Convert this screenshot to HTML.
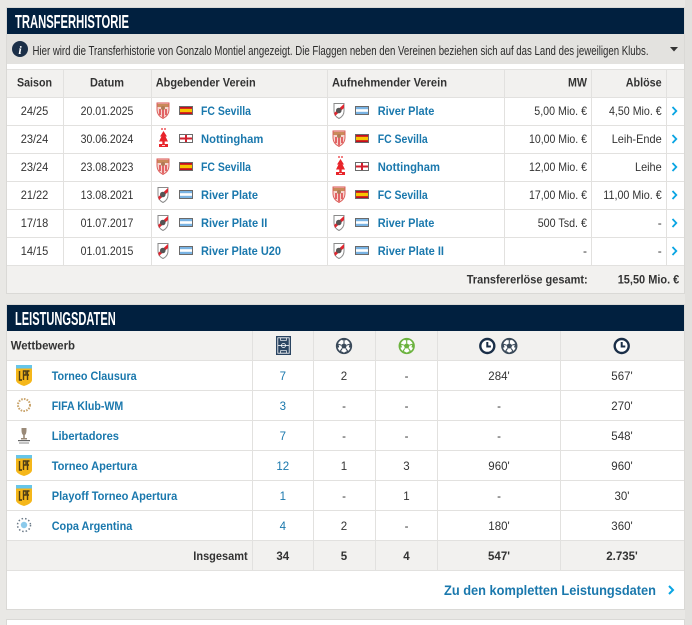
<!DOCTYPE html>
<html><head><meta charset="utf-8"><style>html,body{margin:0;padding:0;background:#e9e8e5;overflow:hidden}svg{display:block}</style></head>
<body>
<svg width="692" height="625" viewBox="0 0 692 625" xmlns="http://www.w3.org/2000/svg" font-family="'Liberation Sans', sans-serif">
<defs>
  <g id="sev">
    <path d="M1,1 H13 V8 Q13,13.5 7,16.5 Q1,13.5 1,8 Z" fill="#f6d6d0" stroke="#d9534f" stroke-width="0.9"/>
    <path d="M1.5,2 H12.5 V5 H1.5Z" fill="#c98a5a"/>
    <path d="M4,7 V13 M7,6 V15.5 M10,7 V13" stroke="#d9343a" stroke-width="1.4"/>
    <circle cx="7" cy="6" r="2" fill="#b07a55"/>
  </g>
  <g id="not">
    <circle cx="4" cy="1" r="0.9" fill="#e8242a"/><circle cx="7" cy="1" r="0.9" fill="#e8242a"/>
    <path d="M5.5,3 L9,8.5 L7.5,8.5 L10,13.5 L6.7,13.5 V16 H10 V19 H1 V16 H4.3 V13.5 L1,13.5 L3.5,8.5 L2,8.5 Z" fill="#e8242a"/>
    <path d="M4,17.5 H7" stroke="#fff" stroke-width="0.8"/>
  </g>
  <g id="riv">
    <path d="M1,1.5 H11 V9 Q11,14 6,16.5 Q1,14 1,9 Z" fill="#fff" stroke="#8a8a8a" stroke-width="1"/>
    <path d="M11,2 V6 L2,14 L1.2,11 Z" fill="#e0252f"/>
    <circle cx="5.8" cy="8.5" r="2.8" fill="#555"/>
  </g>
  <g id="es">
    <rect x="0.5" y="0.5" width="13" height="8" fill="#c60b1e" stroke="#6a6a6a" stroke-width="1"/>
    <rect x="1" y="2.8" width="12" height="3.4" fill="#f7c400"/>
  </g>
  <g id="en">
    <rect x="0.5" y="0.5" width="13" height="8" fill="#fff" stroke="#6a6a6a" stroke-width="1"/>
    <rect x="6" y="1" width="2" height="7" fill="#d0202e"/>
    <rect x="1" y="3.5" width="12" height="2" fill="#d0202e"/>
  </g>
  <g id="ar">
    <rect x="0.5" y="0.5" width="13" height="8" fill="#79b3e3" stroke="#6a6a6a" stroke-width="1"/>
    <rect x="1" y="3.2" width="12" height="2.6" fill="#fff"/>
  </g>
  <g id="chev">
    <polyline points="0,0 3.8,4 0,8" fill="none" stroke="#0aa5e3" stroke-width="1.8"/>
  </g>
  <g id="ball">
    <circle cx="0" cy="0" r="7.3" fill="#fff" stroke="currentColor" stroke-width="1.7"/>
    <polygon points="0,-3 2.9,-0.9 1.8,2.4 -1.8,2.4 -2.9,-0.9" fill="currentColor"/>
    <path d="M0,-3 V-6 M2.9,-0.9 L5.8,-1.9 M1.8,2.4 L3.6,5 M-1.8,2.4 L-3.6,5 M-2.9,-0.9 L-5.8,-1.9" stroke="currentColor" stroke-width="1.1"/>
    <path d="M-2,-6.6 L2,-6.6 M6.6,-2.3 L5.5,1.5 M4.3,5.3 L1.2,6.8 M-4.3,5.3 L-1.2,6.8 M-6.6,-2.3 L-5.5,1.5" stroke="currentColor" stroke-width="1.6"/>
  </g>
  <g id="clock">
    <circle cx="0" cy="0" r="7" fill="#fff" stroke="#1b2f48" stroke-width="2.4"/>
    <polyline points="0,-4 0,0.5 3.6,0.5" fill="none" stroke="#1b2f48" stroke-width="2"/>
  </g>
  <g id="lpf">
    <rect x="0" y="0" width="16" height="3.5" fill="#66c6ea"/>
    <path d="M0,3.5 H16 V15 Q16,18.5 8,21 Q0,18.5 0,15 Z" fill="#f5b71a"/>
    <path d="M3.5,6 V15 H6 M7.5,15 V6 H10 V10 H7.5 M11.5,15 V6 H13.5 M11.5,10 H13" stroke="#4d3d16" stroke-width="1.4" fill="none"/>
  </g>
</defs>

<rect width="692" height="625" fill="#e9e8e5"/>
<rect x="685" y="0" width="7" height="625" fill="#e2e1de"/>

<!-- ===== Box 1: Transferhistorie ===== -->
<rect x="6.5" y="7.5" width="678" height="286" fill="#fff" stroke="#dad9d6"/>
<rect x="7" y="8" width="677" height="26" fill="#01203f"/>
<text x="15" y="28" font-size="18.5" font-weight="bold" fill="#fff" textLength="114" lengthAdjust="spacingAndGlyphs">TRANSFERHISTORIE</text>

<rect x="7" y="34" width="677" height="30" fill="#e3e2df"/>
<circle cx="20" cy="49" r="8" fill="#1b2f48"/>
<text x="20" y="54" font-size="12" font-weight="bold" font-style="italic" font-family="'Liberation Serif', serif" fill="#fff" text-anchor="middle">i</text>
<text x="32.5" y="55" font-size="13" fill="#2a2a2a" textLength="616" lengthAdjust="spacingAndGlyphs">Hier wird die Transferhistorie von Gonzalo Montiel angezeigt. Die Flaggen neben den Vereinen beziehen sich auf das Land des jeweiligen Klubs.</text>
<polygon points="670,47 678,47 674,51.5" fill="#333"/>

<rect x="7" y="69" width="677" height="28" fill="#f2f1ef"/>
<rect x="7" y="265" width="677" height="28" fill="#f2f1ef"/>
<g stroke="#e2e1df" stroke-width="1">
  <line x1="7" y1="69.5" x2="684" y2="69.5"/>
  <line x1="7" y1="97.5" x2="684" y2="97.5"/>
  <line x1="7" y1="125.5" x2="684" y2="125.5"/>
  <line x1="7" y1="153.5" x2="684" y2="153.5"/>
  <line x1="7" y1="181.5" x2="684" y2="181.5"/>
  <line x1="7" y1="209.5" x2="684" y2="209.5"/>
  <line x1="7" y1="237.5" x2="684" y2="237.5"/>
  <line x1="7" y1="265.5" x2="684" y2="265.5"/>
  <line x1="63.5" y1="69" x2="63.5" y2="265"/>
  <line x1="151.5" y1="69" x2="151.5" y2="265"/>
  <line x1="327.5" y1="69" x2="327.5" y2="265"/>
  <line x1="504.5" y1="69" x2="504.5" y2="265"/>
  <line x1="591.5" y1="69" x2="591.5" y2="265"/>
  <line x1="666.5" y1="69" x2="666.5" y2="265"/>
</g>

<g font-size="12" font-weight="bold" fill="#333">
  <text x="34.5" y="86.5" text-anchor="middle" textLength="35" lengthAdjust="spacingAndGlyphs">Saison</text>
  <text x="107" y="86.5" text-anchor="middle" textLength="34" lengthAdjust="spacingAndGlyphs">Datum</text>
  <text x="155.7" y="86.5" textLength="100" lengthAdjust="spacingAndGlyphs">Abgebender Verein</text>
  <text x="332" y="86.5" textLength="115" lengthAdjust="spacingAndGlyphs">Aufnehmender Verein</text>
  <text x="587" y="86.5" text-anchor="end" textLength="19" lengthAdjust="spacingAndGlyphs">MW</text>
  <text x="661.7" y="86.5" text-anchor="end" textLength="36" lengthAdjust="spacingAndGlyphs">Ablöse</text>
</g>

<!-- rows -->
<g font-size="12" fill="#333">
  <text x="34.5" y="115" text-anchor="middle" textLength="27.6" lengthAdjust="spacingAndGlyphs">24/25</text>
  <text x="34.5" y="143" text-anchor="middle" textLength="27.6" lengthAdjust="spacingAndGlyphs">23/24</text>
  <text x="34.5" y="171" text-anchor="middle" textLength="27.6" lengthAdjust="spacingAndGlyphs">23/24</text>
  <text x="34.5" y="199" text-anchor="middle" textLength="27.6" lengthAdjust="spacingAndGlyphs">21/22</text>
  <text x="34.5" y="227" text-anchor="middle" textLength="27.6" lengthAdjust="spacingAndGlyphs">17/18</text>
  <text x="34.5" y="255" text-anchor="middle" textLength="27.6" lengthAdjust="spacingAndGlyphs">14/15</text>

  <text x="107" y="115" text-anchor="middle" textLength="52.7" lengthAdjust="spacingAndGlyphs">20.01.2025</text>
  <text x="107" y="143" text-anchor="middle" textLength="52.7" lengthAdjust="spacingAndGlyphs">30.06.2024</text>
  <text x="107" y="171" text-anchor="middle" textLength="52.7" lengthAdjust="spacingAndGlyphs">23.08.2023</text>
  <text x="107" y="199" text-anchor="middle" textLength="52.7" lengthAdjust="spacingAndGlyphs">13.08.2021</text>
  <text x="107" y="227" text-anchor="middle" textLength="52.7" lengthAdjust="spacingAndGlyphs">01.07.2017</text>
  <text x="107" y="255" text-anchor="middle" textLength="52.7" lengthAdjust="spacingAndGlyphs">01.01.2015</text>

  <text x="587" y="115" text-anchor="end" textLength="52.7" lengthAdjust="spacingAndGlyphs">5,00 Mio. €</text>
  <text x="587" y="143" text-anchor="end" textLength="58" lengthAdjust="spacingAndGlyphs">10,00 Mio. €</text>
  <text x="587" y="171" text-anchor="end" textLength="58" lengthAdjust="spacingAndGlyphs">12,00 Mio. €</text>
  <text x="587" y="199" text-anchor="end" textLength="58" lengthAdjust="spacingAndGlyphs">17,00 Mio. €</text>
  <text x="587" y="227" text-anchor="end" textLength="49.3" lengthAdjust="spacingAndGlyphs">500 Tsd. €</text>
  <text x="587" y="255" text-anchor="end">-</text>

  <text x="661.7" y="115" text-anchor="end" textLength="52.7" lengthAdjust="spacingAndGlyphs">4,50 Mio. €</text>
  <text x="661.7" y="143" text-anchor="end" textLength="50" lengthAdjust="spacingAndGlyphs">Leih-Ende</text>
  <text x="661.7" y="171" text-anchor="end" textLength="26.7" lengthAdjust="spacingAndGlyphs">Leihe</text>
  <text x="661.7" y="199" text-anchor="end" textLength="58.4" lengthAdjust="spacingAndGlyphs">11,00 Mio. €</text>
  <text x="661.7" y="227" text-anchor="end">-</text>
  <text x="661.7" y="255" text-anchor="end">-</text>
</g>

<!-- crests & flags -->
<use href="#sev" x="156" y="102"/><use href="#es" x="179" y="106"/>
<use href="#riv" x="333" y="102"/><use href="#ar" x="355" y="106"/>

<use href="#not" x="158" y="128"/><use href="#en" x="179" y="134"/>
<use href="#sev" x="332" y="130"/><use href="#es" x="355" y="134"/>

<use href="#sev" x="156" y="158"/><use href="#es" x="179" y="162"/>
<use href="#not" x="335" y="156"/><use href="#en" x="355" y="162"/>

<use href="#riv" x="157" y="186"/><use href="#ar" x="179" y="190"/>
<use href="#sev" x="332" y="186"/><use href="#es" x="355" y="190"/>

<use href="#riv" x="157" y="214"/><use href="#ar" x="179" y="218"/>
<use href="#riv" x="333" y="214"/><use href="#ar" x="355" y="218"/>

<use href="#riv" x="157" y="242"/><use href="#ar" x="179" y="246"/>
<use href="#riv" x="333" y="242"/><use href="#ar" x="355" y="246"/>

<g font-size="12" font-weight="bold" fill="#1a78ad">
  <text x="201" y="115" textLength="50" lengthAdjust="spacingAndGlyphs">FC Sevilla</text>
  <text x="201" y="143" textLength="62.3" lengthAdjust="spacingAndGlyphs">Nottingham</text>
  <text x="201" y="171" textLength="50" lengthAdjust="spacingAndGlyphs">FC Sevilla</text>
  <text x="201" y="199" textLength="57" lengthAdjust="spacingAndGlyphs">River Plate</text>
  <text x="201" y="227" textLength="66.3" lengthAdjust="spacingAndGlyphs">River Plate II</text>
  <text x="201" y="255" textLength="80" lengthAdjust="spacingAndGlyphs">River Plate U20</text>

  <text x="377.7" y="115" textLength="56.7" lengthAdjust="spacingAndGlyphs">River Plate</text>
  <text x="377.7" y="143" textLength="50" lengthAdjust="spacingAndGlyphs">FC Sevilla</text>
  <text x="377.7" y="171" textLength="62.3" lengthAdjust="spacingAndGlyphs">Nottingham</text>
  <text x="377.7" y="199" textLength="50" lengthAdjust="spacingAndGlyphs">FC Sevilla</text>
  <text x="377.7" y="227" textLength="56.7" lengthAdjust="spacingAndGlyphs">River Plate</text>
  <text x="377.7" y="255" textLength="66.3" lengthAdjust="spacingAndGlyphs">River Plate II</text>
</g>

<use href="#chev" x="672.5" y="107"/>
<use href="#chev" x="672.5" y="135"/>
<use href="#chev" x="672.5" y="163"/>
<use href="#chev" x="672.5" y="191"/>
<use href="#chev" x="672.5" y="219"/>
<use href="#chev" x="672.5" y="247"/>

<g font-size="12" font-weight="bold" fill="#333">
  <text x="587.7" y="283.5" text-anchor="end" textLength="121" lengthAdjust="spacingAndGlyphs">Transfererlöse gesamt:</text>
  <text x="679.3" y="283.5" text-anchor="end" textLength="61.6" lengthAdjust="spacingAndGlyphs">15,50 Mio. €</text>
</g>

<!-- ===== Box 2: Leistungsdaten ===== -->
<rect x="6.5" y="304.5" width="678" height="305" fill="#fff" stroke="#dad9d6"/>
<rect x="7" y="305" width="677" height="26" fill="#01203f"/>
<text x="15" y="325" font-size="18.5" font-weight="bold" fill="#fff" textLength="100.7" lengthAdjust="spacingAndGlyphs">LEISTUNGSDATEN</text>

<rect x="7" y="331" width="677" height="29" fill="#f2f1ef"/>
<rect x="7" y="540" width="677" height="30" fill="#f2f1ef"/>
<g stroke="#e2e1df" stroke-width="1">
  <line x1="7" y1="360.5" x2="684" y2="360.5"/>
  <line x1="7" y1="390.5" x2="684" y2="390.5"/>
  <line x1="7" y1="420.5" x2="684" y2="420.5"/>
  <line x1="7" y1="450.5" x2="684" y2="450.5"/>
  <line x1="7" y1="480.5" x2="684" y2="480.5"/>
  <line x1="7" y1="510.5" x2="684" y2="510.5"/>
  <line x1="7" y1="540.5" x2="684" y2="540.5"/>
  <line x1="7" y1="570.5" x2="684" y2="570.5"/>
  <line x1="252.5" y1="331" x2="252.5" y2="570"/>
  <line x1="313.5" y1="331" x2="313.5" y2="570"/>
  <line x1="375.5" y1="331" x2="375.5" y2="570"/>
  <line x1="437.5" y1="331" x2="437.5" y2="570"/>
  <line x1="560.5" y1="331" x2="560.5" y2="570"/>
</g>

<text x="10.7" y="349.5" font-size="12" font-weight="bold" fill="#333" textLength="64.3" lengthAdjust="spacingAndGlyphs">Wettbewerb</text>

<!-- header icons -->
<g>
  <rect x="276" y="336" width="15" height="19" fill="#2a4461"/>
  <rect x="277.8" y="337.8" width="11.4" height="15.4" fill="none" stroke="#fff" stroke-width="0.8"/>
  <line x1="277.8" y1="345.5" x2="289.2" y2="345.5" stroke="#fff" stroke-width="0.8"/>
  <circle cx="283.5" cy="345.5" r="2" fill="none" stroke="#fff" stroke-width="0.8"/>
  <rect x="280.5" y="337.8" width="6" height="2.5" fill="none" stroke="#fff" stroke-width="0.7"/>
  <rect x="280.5" y="350.7" width="6" height="2.5" fill="none" stroke="#fff" stroke-width="0.7"/>
</g>
<use href="#ball" x="344" y="346" color="#3b4a5a"/>
<use href="#ball" x="406.7" y="346" color="#6cb33f"/>
<use href="#clock" x="487.3" y="346"/>
<use href="#ball" x="509.3" y="346" color="#3b4a5a"/>
<use href="#clock" x="621.7" y="346"/>

<!-- competition logos -->
<use href="#lpf" x="16" y="365"/>
<circle cx="24" cy="405" r="6" fill="none" stroke="#c9a46c" stroke-width="2" stroke-dasharray="1.6 1.2"/>
<g fill="#9a8a78">
  <path d="M21.5,428 H26.5 V430 Q26.5,434 24.8,435 V438 H23.2 V435 Q21.5,434 21.5,430Z"/>
  <rect x="21" y="438" width="6" height="1.5"/>
  <rect x="18" y="440" width="12" height="1.2" fill="#666"/>
  <rect x="19" y="442.5" width="10" height="1" fill="#888"/>
</g>
<use href="#lpf" x="16" y="455"/>
<use href="#lpf" x="16" y="485"/>
<circle cx="24" cy="525" r="6.5" fill="none" stroke="#6b7a88" stroke-width="1.5" stroke-dasharray="1.5 2"/>
<circle cx="24" cy="525" r="3.2" fill="#8ccaeb"/>

<g font-size="12" font-weight="bold" fill="#1a78ad">
  <text x="51.7" y="380" textLength="85" lengthAdjust="spacingAndGlyphs">Torneo Clausura</text>
  <text x="51.7" y="410" textLength="71.6" lengthAdjust="spacingAndGlyphs">FIFA Klub-WM</text>
  <text x="51.7" y="440" textLength="67.3" lengthAdjust="spacingAndGlyphs">Libertadores</text>
  <text x="51.7" y="470" textLength="85.6" lengthAdjust="spacingAndGlyphs">Torneo Apertura</text>
  <text x="51.7" y="500" textLength="125.6" lengthAdjust="spacingAndGlyphs">Playoff Torneo Apertura</text>
  <text x="51.7" y="530" textLength="80.6" lengthAdjust="spacingAndGlyphs">Copa Argentina</text>
</g>

<g font-size="11.5" fill="#1a78ad" text-anchor="middle">
  <text x="282.8" y="380">7</text>
  <text x="282.8" y="410">3</text>
  <text x="282.8" y="440">7</text>
  <text x="282.8" y="470">12</text>
  <text x="282.8" y="500">1</text>
  <text x="282.8" y="530">4</text>
</g>
<g font-size="11.5" fill="#333" text-anchor="middle">
  <text x="344" y="380">2</text><text x="406.5" y="380">-</text><text x="499" y="380">284'</text><text x="622" y="380">567'</text>
  <text x="344" y="410">-</text><text x="406.5" y="410">-</text><text x="499" y="410">-</text><text x="622" y="410">270'</text>
  <text x="344" y="440">-</text><text x="406.5" y="440">-</text><text x="499" y="440">-</text><text x="622" y="440">548'</text>
  <text x="344" y="470">1</text><text x="406.5" y="470">3</text><text x="499" y="470">960'</text><text x="622" y="470">960'</text>
  <text x="344" y="500">-</text><text x="406.5" y="500">1</text><text x="499" y="500">-</text><text x="622" y="500">30'</text>
  <text x="344" y="530">2</text><text x="406.5" y="530">-</text><text x="499" y="530">180'</text><text x="622" y="530">360'</text>
</g>
<g font-size="12" font-weight="bold" fill="#333">
  <text x="247.7" y="560" text-anchor="end" textLength="54.4" lengthAdjust="spacingAndGlyphs">Insgesamt</text>
  <text x="282.8" y="560" text-anchor="middle" font-size="11.5">34</text>
  <text x="344" y="560" text-anchor="middle" font-size="11.5">5</text>
  <text x="406.5" y="560" text-anchor="middle" font-size="11.5">4</text>
  <text x="499" y="560" text-anchor="middle" font-size="11.5">547'</text>
  <text x="622" y="560" text-anchor="middle" font-size="11.5">2.735'</text>
</g>

<text x="444" y="595" font-size="14" font-weight="bold" fill="#1a78ad" textLength="212" lengthAdjust="spacingAndGlyphs">Zu den kompletten Leistungsdaten</text>
<polyline points="669,586 673,590 669,594" fill="none" stroke="#0aa5e3" stroke-width="2"/>

<!-- Box 3 -->
<rect x="6.5" y="619.5" width="678" height="20" fill="#fff" stroke="#dad9d6"/>
</svg>
</body></html>
